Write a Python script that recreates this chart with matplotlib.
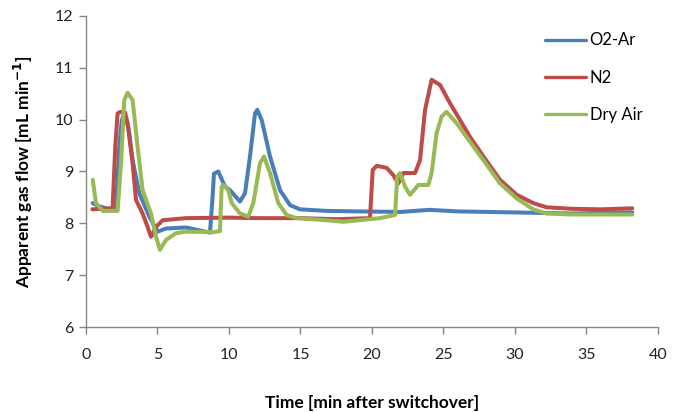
import matplotlib.pyplot as plt

# gas flow after switchover, one trace per carrier gas
t_o2ar = [0.47, 0.93, 1.5, 2.1, 2.33, 2.5, 2.63, 2.8, 3.0, 3.26, 3.73, 4.43, 5.01, 5.6, 7.0,
          8.67, 8.85, 8.95, 9.25, 9.72, 10.07, 10.77, 11.12, 11.47, 11.82, 11.98, 12.29, 12.87, 13.57, 14.27,
          14.97, 16.8, 19.1, 22.0, 24.0, 26.0, 28.0, 30.0, 32.0, 34.0, 36.0, 38.2]
flow_o2ar = [8.39, 8.33, 8.28, 8.28, 9.48, 9.98, 10.09, 10.02, 9.80, 9.22, 8.58, 8.13, 7.84, 7.90, 7.92,
             7.82, 8.5, 8.96, 9.00, 8.71, 8.64, 8.42, 8.58, 9.29, 10.12, 10.19, 9.99, 9.29, 8.64, 8.35,
             8.27, 8.24, 8.23, 8.22, 8.26, 8.23, 8.22, 8.21, 8.20, 8.19, 8.20, 8.21]

t_n2 = [0.45, 1.0, 1.86, 2.05, 2.21, 2.4, 2.73, 2.91, 3.26, 3.5, 3.96, 4.31, 4.55, 4.9, 5.36,
        7.0, 10.0, 12.0, 15.0, 17.5, 19.86, 20.05, 20.33, 21.03, 21.49, 21.84, 22.2, 23.01, 23.36, 23.71,
        24.17, 24.76, 25.45, 26.85, 27.79, 28.95, 30.12, 31.28, 32.2, 34.0, 36.0, 38.2]
flow_n2 = [8.27, 8.28, 8.29, 9.48, 10.12, 10.15, 10.14, 9.93, 9.16, 8.45, 8.19, 7.93, 7.74, 7.93, 8.06,
           8.10, 8.11, 8.10, 8.10, 8.08, 8.10, 9.03, 9.11, 9.07, 8.93, 8.77, 8.97, 8.97, 9.22, 10.19,
           10.77, 10.67, 10.32, 9.67, 9.29, 8.84, 8.55, 8.39, 8.31, 8.28, 8.27, 8.29]

t_air = [0.47, 0.7, 1.17, 2.21, 2.45, 2.68, 2.91, 3.26, 3.61, 3.96, 4.55, 4.9, 5.17, 5.6, 6.29,
         7.0, 8.9, 9.37, 9.49, 9.6, 9.95, 10.19, 10.77, 11.35, 11.7, 12.17, 12.45, 12.87, 13.45, 14.03,
         14.73, 16.8, 18.0, 20.56, 21.61, 21.77, 21.96, 22.31, 22.66, 23.24, 23.94, 24.17, 24.52, 24.87, 25.22,
         25.92, 27.44, 27.79, 28.95, 30.12, 31.28, 32.2, 34.0, 36.0, 38.2]
flow_air = [8.84, 8.39, 8.24, 8.24, 9.16, 10.38, 10.52, 10.38, 9.48, 8.64, 8.19, 7.74, 7.49, 7.68, 7.81,
            7.84, 7.83, 7.85, 8.71, 8.74, 8.64, 8.39, 8.19, 8.13, 8.39, 9.16, 9.29, 8.97, 8.39, 8.16,
            8.10, 8.06, 8.03, 8.10, 8.16, 8.90, 8.97, 8.71, 8.55, 8.74, 8.74, 8.97, 9.74, 10.06, 10.15,
            9.93, 9.35, 9.22, 8.77, 8.48, 8.27, 8.19, 8.17, 8.17, 8.17]

x_ticks = [0, 5, 10, 15, 20, 25, 30, 35, 40]
y_ticks = [6, 7, 8, 9, 10, 11, 12]

plt.rcParams['font.family'] = ['Lato', 'DejaVu Sans']

fig = plt.figure(figsize=(6.78, 4.12), dpi=100)
ax = fig.add_axes([0.1268, 0.2063, 0.8437, 0.7549])

style = dict(lw=2.9, solid_joinstyle='round', solid_capstyle='round')
ax.plot(t_o2ar, flow_o2ar, color='#4A7EBB', label='O2-Ar', **style)
ax.plot(t_n2, flow_n2, color='#BE4B48', label='N2', **style)
ax.plot(t_air, flow_air, color='#98B954', label='Dry Air', **style)

ax.set_xlim(0, 40)
ax.set_ylim(6, 12)
ax.set_xticks(x_ticks)
ax.set_yticks(y_ticks)

for side in ['top', 'right']:
    ax.spines[side].set_visible(False)
for side in ['left', 'bottom']:
    ax.spines[side].set_color('#868686')
    ax.spines[side].set_linewidth(1.0)
ax.tick_params(axis='both', colors='#868686', labelcolor='#222222',
               labelsize=11.5, length=5, width=1, direction='out')
ax.tick_params(axis='x', pad=10)
ax.tick_params(axis='y', pad=4)

ax.set_xlabel('Time [min after switchover]', fontsize=12.5, fontweight='bold', labelpad=24)
ax.set_ylabel('Apparent gas flow [mL min$^{\\mathbf{-1}}$]', fontsize=12.5,
              fontweight='bold', labelpad=14)

leg = ax.legend(loc='upper left', bbox_to_anchor=(0.802, 0.947), frameon=False, fontsize=12,
                handlelength=2.5, handletextpad=0.2, labelspacing=1.27,
                borderpad=0, borderaxespad=0)
for line in leg.get_lines():
    line.set_linewidth(2.4)

fig.savefig('out.png', dpi=100)
